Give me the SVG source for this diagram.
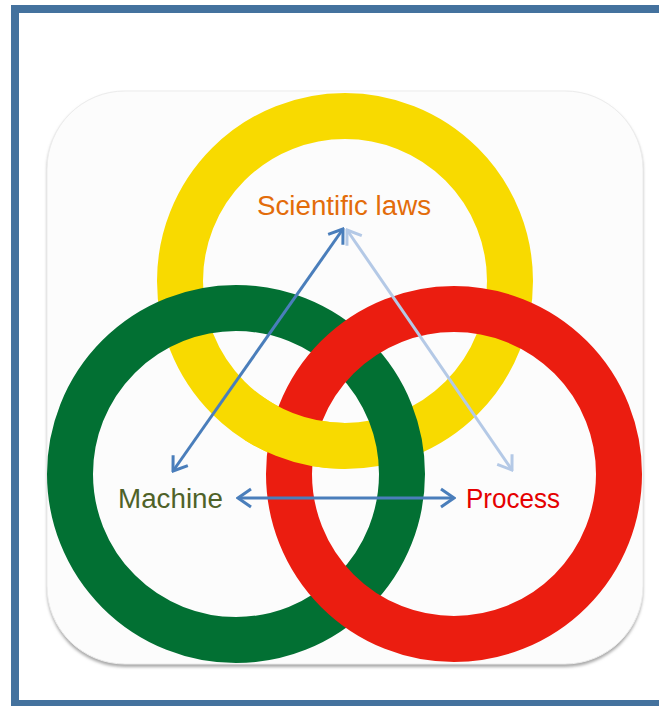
<svg xmlns="http://www.w3.org/2000/svg" width="659" height="706" viewBox="0 0 659 706">
  <style>
    .ring { fill: none; stroke-width: 46; }
    .lbl { font-family: "Liberation Sans", Arial, sans-serif; font-size: 27px; }
    .dark { stroke: #4A7EBB; stroke-width: 3; fill: none; }
    .light { stroke: #B4C9E6; stroke-width: 3; fill: none; }
  </style>
  <defs>
    <marker id="ahDark" viewBox="-16 -11 18 22" refX="0" refY="0" markerWidth="18" markerHeight="22" markerUnits="userSpaceOnUse" orient="auto-start-reverse">
      <path d="M -13 -9 L 0 0 L -13 9" fill="none" stroke="#4A7EBB" stroke-width="3"/>
    </marker>
    <marker id="ahLight" viewBox="-16 -11 18 22" refX="0" refY="0" markerWidth="18" markerHeight="22" markerUnits="userSpaceOnUse" orient="auto-start-reverse">
      <path d="M -13 -9 L 0 0 L -13 9" fill="none" stroke="#B4C9E6" stroke-width="3"/>
    </marker>
    <filter id="shadow" x="-5%" y="-5%" width="110%" height="112%">
      <feGaussianBlur stdDeviation="1.5"/>
    </filter>
    <clipPath id="overPatch">
      <rect x="245" y="395" width="100" height="85"/>
    </clipPath>
  </defs>

  <rect width="659" height="706" fill="#ffffff"/>
  <g id="frame">
    <rect x="15" y="9" width="700" height="695" fill="#ffffff" stroke="#44729E" stroke-width="8"/>
  </g>

  <g id="panel">
    <rect x="47" y="93" width="596" height="574" rx="78" ry="78" fill="#A8A8A8" filter="url(#shadow)"/>
    <rect x="47" y="91" width="596" height="573" rx="78" ry="78" fill="#FCFCFC" stroke="#ECECEC" stroke-width="1"/>
  </g>

  <g id="rings">
    <circle id="ring-yellow" class="ring" cx="345" cy="281" r="165" stroke="#F8DA00"/>
    <circle id="ring-green" class="ring" cx="236" cy="474" r="166" stroke="#027033"/>
    <circle id="ring-red" class="ring" cx="454" cy="474" r="165" stroke="#EB1D10"/>
    <g clip-path="url(#overPatch)">
      <circle class="ring" cx="345" cy="281" r="165" stroke="#F8DA00"/>
    </g>
  </g>

  <g id="connectors">
    <line class="dark" x1="343" y1="229" x2="173" y2="471" marker-start="url(#ahDark)" marker-end="url(#ahDark)"/>
    <line class="light" x1="347" y1="230" x2="512" y2="470" marker-start="url(#ahLight)" marker-end="url(#ahLight)"/>
    <line class="dark" x1="238" y1="498" x2="454" y2="498" marker-start="url(#ahDark)" marker-end="url(#ahDark)"/>
  </g>

  <g id="node-scientific-laws">
    <text class="lbl" x="344" y="215" text-anchor="middle" fill="#E36C0A" textLength="174" lengthAdjust="spacingAndGlyphs">Scientific laws</text>
  </g>
  <g id="node-machine">
    <text class="lbl" x="118" y="508" fill="#4F6228" textLength="105" lengthAdjust="spacingAndGlyphs">Machine</text>
  </g>
  <g id="node-process">
    <text class="lbl" x="466" y="508" fill="#E50000" textLength="94" lengthAdjust="spacingAndGlyphs">Process</text>
  </g>
</svg>
